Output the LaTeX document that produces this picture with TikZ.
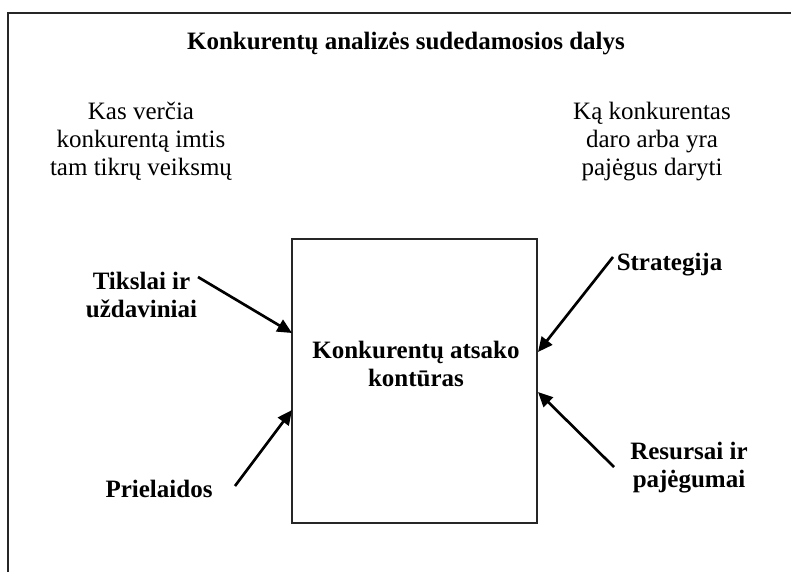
\documentclass[tikz,border=0pt]{standalone}
\usepackage{fontspec}
\setmainfont{Liberation Serif}
\usetikzlibrary{arrows.meta}
\begin{document}
\begin{tikzpicture}[x=0.75pt,y=-0.75pt,
  every node/.style={inner sep=0pt, outer sep=0pt},
  plain/.style={font=\fontsize{18.75pt}{21pt}\selectfont, align=center},
  bold/.style={font=\fontsize{18.75pt}{21pt}\selectfont\bfseries, align=center},
  frameline/.style={line width=1.1pt, draw=black!85},
  pointer/.style={line width=2pt, -{Triangle[length=11pt,width=10pt]}}]
\useasboundingbox (0,0) rectangle (791,572);
% open outer frame: top and left sides only
\draw[frameline] (8,572) -- (8,13) -- (791,13);
% title
\node[bold, anchor=base] (title) at (406,49) {Konkurentų analizės sudedamosios dalys};
% side headings (anchored at the baseline of their last line)
\node[plain, anchor=base] (why) at (141,175) {Kas verčia\\konkurentą imtis\\tam tikrų veiksmų};
\node[plain, anchor=base] (what) at (652,175) {Ką konkurentas\\daro arba yra\\pajėgus daryti};
% central box
\node[draw=black!85, line width=1.2pt, minimum width=183.75pt, minimum height=213pt] (box) at (414.5,381) {};
\node[bold, anchor=base] (boxtext) at (416,386) {Konkurentų atsako\\kontūras};
% factor labels
\node[bold, anchor=base] (goals) at (141.5,317) {Tikslai ir\\uždaviniai};
\node[bold, anchor=base] (assume) at (159,497) {Prielaidos};
\node[bold, anchor=base] (strat) at (669.5,270) {Strategija};
\node[bold, anchor=base] (res) at (689,487) {Resursai ir\\pajėgumai};
% arrow ends
\coordinate (goalsT) at (198,277);
\coordinate (assumeT) at (235,486);
\coordinate (stratT) at (613,257);
\coordinate (resT) at (614,467);
\coordinate (goalsH) at (292,333);
\coordinate (assumeH) at (292,410);
\coordinate (stratH) at (538,352);
\coordinate (resH) at (538,392);
\draw[pointer] (goalsT) -- (goalsH);
\draw[pointer] (assumeT) -- (assumeH);
\draw[pointer] (stratT) -- (stratH);
\draw[pointer] (resT) -- (resH);
\end{tikzpicture}
\end{document}
